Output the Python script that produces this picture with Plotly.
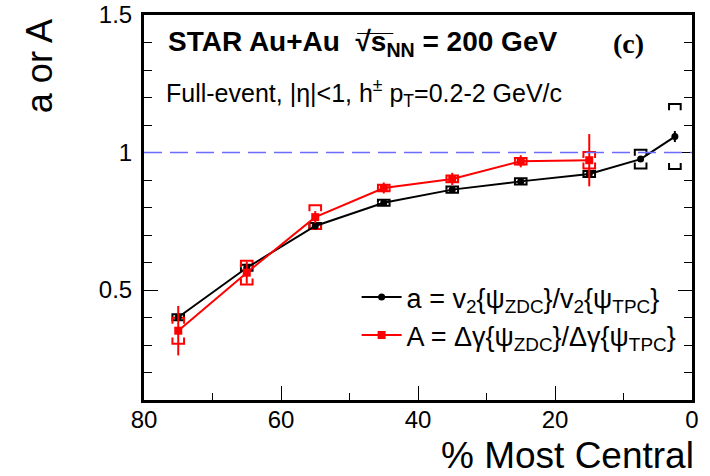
import plotly.graph_objects as go

# ---- data ----
cent_a = [75, 65, 55, 45, 35, 25, 15, 7.5, 2.5]
a_val = [0.401, 0.581, 0.733, 0.817, 0.865, 0.895, 0.922, 0.976, 1.058]
a_stat = [0.010, 0.010, 0.008, 0.008, 0.008, 0.008, 0.010, 0.010, 0.020]
a_sys = [0.011, 0.011, 0.011, 0.011, 0.011, 0.011, 0.011, 0.034, 0.118]

cent_A = [75, 65, 55, 45, 35, 25, 15]
A_val = [0.352, 0.563, 0.765, 0.871, 0.904, 0.968, 0.972]
A_stat = [0.090, 0.040, 0.022, 0.020, 0.022, 0.022, 0.095]
A_sys = [0.047, 0.043, 0.043, 0.012, 0.012, 0.012, 0.030]

x_ticks = [80, 60, 40, 20, 0]
y_ticks = [0.5, 1.0, 1.5]
y_ticktext = ["0.5", "1", "1.5"]

FONT = "Liberation Sans, Arial, sans-serif"
BLACK = "#000000"
RED = "#ff0000"
BLUE = "#6b6bff"


def brackets(xs, ys, ss, half_w=0.85, leg=0.022):
    bx, by = [], []
    for x, y, s in zip(xs, ys, ss):
        l = min(leg, s)
        top, bot = y + s, y - s
        bx += [x - half_w, x - half_w, x + half_w, x + half_w, None]
        by += [top - l, top, top, top - l, None]
        bx += [x - half_w, x - half_w, x + half_w, x + half_w, None]
        by += [bot + l, bot, bot, bot + l, None]
    return bx, by


fig = go.Figure()

fig.add_hline(y=1.0, line=dict(color=BLUE, width=1.6, dash="18px,8px"))

# systematic brackets
bx, by = brackets(cent_a, a_val, a_sys)
fig.add_trace(go.Scatter(x=bx, y=by, mode="lines", line=dict(color=BLACK, width=2),
                         showlegend=False, hoverinfo="skip"))
bx, by = brackets(cent_A, A_val, A_sys)
fig.add_trace(go.Scatter(x=bx, y=by, mode="lines", line=dict(color=RED, width=2),
                         showlegend=False, hoverinfo="skip"))

fig.add_trace(go.Scatter(
    x=cent_a, y=a_val, mode="lines+markers",
    name="a = v<sub>2</sub>{ψ<sub>ZDC</sub>}/v<sub>2</sub>{ψ<sub>TPC</sub>}",
    line=dict(color=BLACK, width=2),
    marker=dict(symbol="circle", size=7, color=BLACK),
    error_y=dict(type="data", array=a_stat, color=BLACK, thickness=2, width=0),
))
fig.add_trace(go.Scatter(
    x=cent_A, y=A_val, mode="lines+markers",
    name="A = Δγ{ψ<sub>ZDC</sub>}/Δγ{ψ<sub>TPC</sub>}",
    line=dict(color=RED, width=2),
    marker=dict(symbol="square", size=8, color=RED),
    error_y=dict(type="data", array=A_stat, color=RED, thickness=2, width=0),
))

fig.update_layout(
    width=710, height=476,
    margin=dict(l=144, r=18, t=15, b=76),
    paper_bgcolor="white", plot_bgcolor="white",
    font=dict(family=FONT, color="black", size=22),
    showlegend=True,
    legend=dict(x=0.388, y=0.33, xanchor="left", yanchor="top",
                bgcolor="rgba(0,0,0,0)", font=dict(size=27, family=FONT),
                tracegroupgap=0, itemwidth=40),
)

fig.update_xaxes(
    range=[80, 0], tickvals=x_ticks, ticks="inside", ticklen=14, tickwidth=1,
    tickcolor="black", showline=True, linewidth=3, linecolor="black", mirror=True,
    showgrid=False, zeroline=False, tickfont=dict(size=24, family=FONT),
    ticklabelstandoff=-4, automargin=False,
    minor=dict(dtick=10, ticks="inside", ticklen=7, tickcolor="black", showgrid=False),
)
fig.update_yaxes(
    range=[0.1, 1.5], tickvals=y_ticks, ticktext=y_ticktext, ticks="inside",
    ticklen=14, tickwidth=1, tickcolor="black", showline=True, linewidth=3,
    linecolor="black", mirror="ticks", showgrid=False, zeroline=False,
    tickfont=dict(size=24, family=FONT), ticklabelstandoff=4, automargin=False,
    minor=dict(dtick=0.1, tick0=0.1, ticks="inside", ticklen=8, tickcolor="black", showgrid=False),
)

fig.add_annotation(xref="paper", yref="paper", x=0.04, y=0.925, xanchor="left", yanchor="middle",
                   text="<b>STAR Au+Au  √s<sub>NN</sub> = 200 GeV</b>", showarrow=False,
                   font=dict(size=28, family=FONT))
# overline of the square-root sign
fig.add_shape(type="line", xref="paper", yref="paper", x0=0.389, x1=0.455, y0=0.952, y1=0.952,
              line=dict(color="black", width=1.2))
fig.add_annotation(xref="paper", yref="paper", x=0.885, y=0.925, xanchor="center", yanchor="middle",
                   text="<b>(c)</b>", showarrow=False,
                   font=dict(size=28, family="Liberation Serif, Times New Roman, serif"))
fig.add_annotation(xref="paper", yref="paper", x=0.036, y=0.797, xanchor="left", yanchor="middle",
                   text="Full-event, |η|<1, h<sup>±</sup> p<sub>T</sub>=0.2-2 GeV/c", showarrow=False,
                   font=dict(size=25, family=FONT))
fig.add_annotation(xref="paper", yref="paper", x=-0.191, y=0.868, xanchor="center", yanchor="middle",
                   text="a or A", textangle=-90, showarrow=False,
                   font=dict(size=36, family=FONT))
fig.add_annotation(xref="paper", yref="paper", x=1.008, y=-0.143, xanchor="right", yanchor="middle",
                   text="% Most Central", showarrow=False,
                   font=dict(size=37, family=FONT))

fig.write_html("out.html")
